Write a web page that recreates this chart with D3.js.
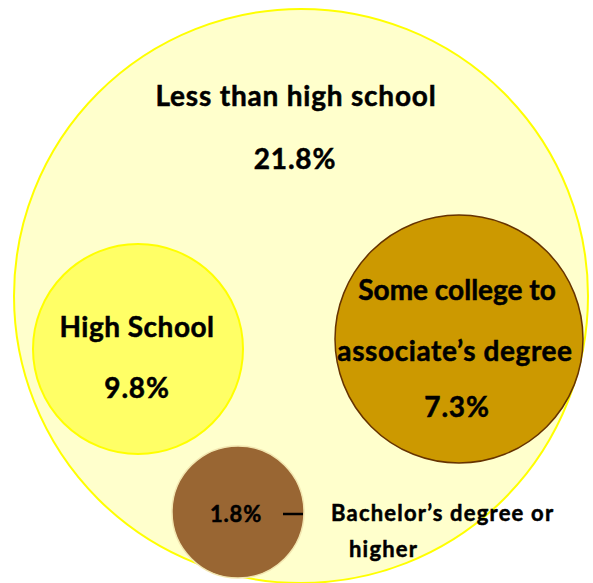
<!DOCTYPE html>
<html><head><meta charset="utf-8">
<script src="https://cdn.jsdelivr.net/npm/d3@7"></script>
<style>html,body{margin:0;padding:0;background:#fff;}svg{display:block;}</style>
</head><body>
<svg id="chart" width="593" height="583"></svg>
<script>
const categories = ["Less than high school", "High School", "Some college to associate’s degree", "Bachelor’s degree or higher"];
const values = [21.8, 9.8, 7.3, 1.8];
const labelLines = [["Less than high school"], ["High School"], ["Some college to", "associate’s degree"], ["Bachelor’s degree or", "higher"]];

// layout (not data)
const layout = [
  {cx: 301, cy: 296, r: 287, fill: "#FFFFCC", stroke: "#FFFF00", sw: 2},
  {cx: 138, cy: 349, r: 105, fill: "#FFFF66", stroke: "#FFFF00", sw: 2},
  {cx: 459, cy: 339, r: 124, fill: "#CC9900", stroke: "#663300", sw: 1.5},
  {cx: 238, cy: 512, r: 66, fill: "#996633", stroke: "#F2E6B0", sw: 1.5}
];
const fmt = d3.format(".1f");
const svg = d3.select("#chart");
const font = "Lato, 'Open Sans', sans-serif";
const data = categories.map((c, i) => ({cat: c, value: values[i], lines: labelLines[i], ...layout[i]}));

svg.selectAll("circle.bubble").data(data).join("circle")
  .attr("class", "bubble")
  .attr("cx", d => d.cx).attr("cy", d => d.cy).attr("r", d => d.r)
  .attr("fill", d => d.fill).attr("stroke", d => d.stroke).attr("stroke-width", d => d.sw);

const txt = (x, y, s, size, anchor, ls) => svg.append("text")
  .attr("x", x).attr("y", y).attr("text-anchor", anchor || "middle")
  .attr("font-family", font).attr("font-weight", "bold").attr("font-size", size)
  .attr("letter-spacing", ls == null ? 0.8 : ls)
  .attr("stroke", "#000").attr("stroke-width", 0.5)
  .attr("fill", "#000").text(s);

// Less than high school
txt(296, 106, data[0].lines[0], 28);
txt(295, 169, fmt(data[0].value) + "%", 28);
// High School
txt(137, 337, data[1].lines[0], 28, "middle", 0.5);
txt(137, 398, fmt(data[1].value) + "%", 28);
// Some college
txt(457, 300, data[2].lines[0], 28, "middle", 0);
txt(455, 361, data[2].lines[1], 28, "middle", 0.6);
txt(457, 417, fmt(data[2].value) + "%", 28);
// Bachelor's
txt(236, 522, fmt(data[3].value) + "%", 22, "middle", 0.8);
svg.append("line").attr("x1", 283).attr("x2", 303).attr("y1", 514).attr("y2", 514)
  .attr("stroke", "#000").attr("stroke-width", 2.5);
txt(331, 521, data[3].lines[0], 22, "start", 1.2);
txt(349, 557, data[3].lines[1], 22, "start", 1.2);
</script>
</body></html>
